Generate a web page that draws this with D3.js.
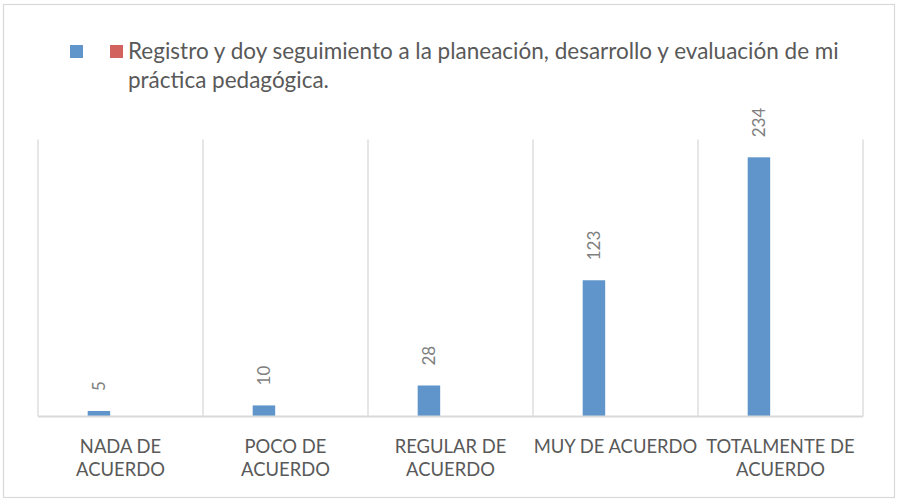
<!DOCTYPE html>
<html>
<head>
<meta charset="utf-8">
<script src="https://cdn.jsdelivr.net/npm/d3@7/dist/d3.min.js"></script>
<style>
  body { margin: 0; background: #fff; }
  svg { display: block; }
  text { font-family: Lato, "Open Sans", "Liberation Sans", sans-serif; }
</style>
</head>
<body>
<svg id="chart" width="897" height="500"></svg>
<script>
// Survey answers: category labels (line breaks with "\n"), series names and counts
const categories = [
  "NADA DE\nACUERDO",
  "POCO DE\nACUERDO",
  "REGULAR DE\nACUERDO",
  "MUY DE ACUERDO",
  "TOTALMENTE DE\nACUERDO"
];
const seriesNames = [
  "",
  "Registro y doy seguimiento a la planeación, desarrollo y evaluación de mi práctica pedagógica."
];
const seriesA = [5, 10, 28, 123, 234];
const seriesB = [null, null, null, null, null];
const seriesColors = ["#5F95CA", "#D1625D"];
const yMax = 250;

const series = [seriesA, seriesB];
const svg = d3.select("#chart");
const plot = { left: 38, right: 863, top: 139.6, bottom: 416.5 };
const grey = "#d9d9d9";

// outer frame
svg.append("rect")
  .attr("x", 3.5).attr("y", 4.5)
  .attr("width", 891).attr("height", 493)
  .attr("fill", "#fff").attr("stroke", grey).attr("stroke-width", 1.2);

const x0 = d3.scaleBand()
  .domain(categories)
  .range([plot.left, plot.right])
  .paddingInner(0).paddingOuter(0);

const x1 = d3.scaleBand()
  .domain(d3.range(series.length))
  .range([0, x0.bandwidth()])
  .paddingInner(0)
  .paddingOuter(2.667)
  .align(0.414);

const y = d3.scaleLinear().domain([0, yMax]).range([plot.bottom, plot.top]);

// vertical separators between categories
const edges = categories.map(c => x0(c)).concat([x0(categories[categories.length - 1]) + x0.bandwidth()]);
svg.append("g").selectAll("line").data(edges).join("line")
  .attr("x1", d => d).attr("x2", d => d)
  .attr("y1", y(yMax)).attr("y2", y(0))
  .attr("stroke", grey).attr("stroke-width", 1.3);

// bars
const barData = [];
series.forEach((vals, si) => {
  vals.forEach((v, ci) => {
    if (v !== null) barData.push({ si, ci, v });
  });
});

svg.append("g").selectAll("rect").data(barData).join("rect")
  .attr("x", d => x0(categories[d.ci]) + x1(d.si))
  .attr("width", x1.bandwidth())
  .attr("y", d => y(d.v))
  .attr("height", d => y(0) - y(d.v))
  .attr("fill", d => seriesColors[d.si]);

// category axis line
svg.append("line")
  .attr("x1", plot.left).attr("x2", plot.right)
  .attr("y1", y(0)).attr("y2", y(0))
  .attr("stroke", grey).attr("stroke-width", 1.8);

// value labels, rotated
svg.append("g").selectAll("text").data(barData).join("text")
  .attr("transform", d => {
    const cx = x0(categories[d.ci]) + x1(d.si) + x1.bandwidth() / 2;
    return `translate(${cx},${y(d.v) - 20}) rotate(-90)`;
  })
  .attr("text-anchor", "start")
  .attr("dominant-baseline", "central")
  .attr("font-size", 17)
  .attr("fill", "#7f7f7f")
  .text(d => d.v);

// category labels
const catG = svg.append("g");
categories.forEach(c => {
  const t = catG.append("text")
    .attr("x", x0(c) + x0.bandwidth() / 2)
    .attr("y", 453)
    .attr("text-anchor", "middle")
    .attr("font-size", 18.4)
    .attr("fill", "#595959");
  c.split("\n").forEach((line, i) => {
    t.append("tspan")
      .attr("x", x0(c) + x0.bandwidth() / 2)
      .attr("dy", i === 0 ? 0 : 22.5)
      .text(line);
  });
});

// legend
const leg = svg.append("g");
const swatchX = [70, 110];
series.forEach((s, i) => {
  leg.append("rect")
    .attr("x", swatchX[i]).attr("y", 45)
    .attr("width", 13).attr("height", 13)
    .attr("fill", seriesColors[i]);
});
const legText = leg.append("text")
  .attr("x", 128).attr("y", 59)
  .attr("font-size", 22.5)
  .attr("fill", "#595959");
const maxW = 735;
const words = seriesNames[1].split(" ");
let tspan = legText.append("tspan").attr("x", 128).attr("dy", 0);
let current = [];
words.forEach(w => {
  current.push(w);
  tspan.text(current.join(" "));
  if (tspan.node().getComputedTextLength() > maxW && current.length > 1) {
    current.pop();
    tspan.text(current.join(" "));
    current = [w];
    tspan = legText.append("tspan").attr("x", 128).attr("dy", 29).text(w);
  }
});
</script>
</body>
</html>
